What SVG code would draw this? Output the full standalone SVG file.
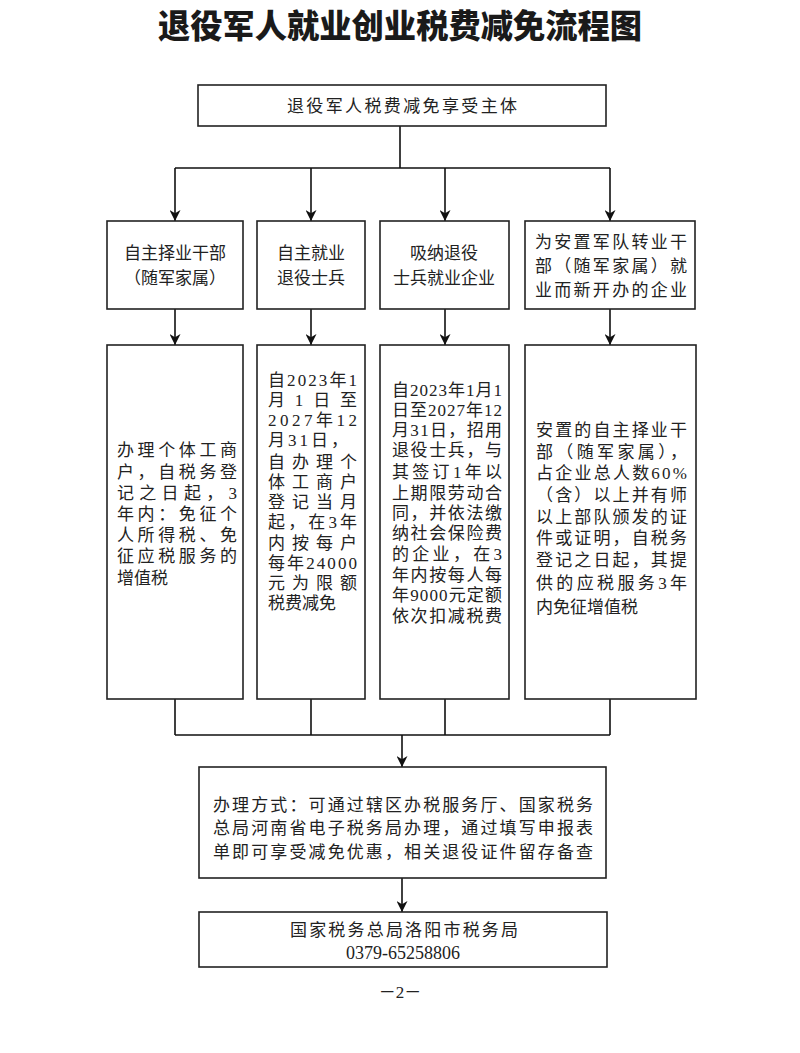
<svg xmlns="http://www.w3.org/2000/svg" width="800" height="1053" viewBox="0 0 800 1053">
<style>
.box{fill:#fff;stroke:#222;stroke-width:1.6}
.t{font-family:"Liberation Serif","Noto Sans CJK SC",serif;font-size:17px;fill:#222}
.c{text-anchor:middle}
.title{font-family:"Noto Sans CJK SC",serif;font-weight:900;font-size:33px;fill:#1a1a1a}
.ln{fill:none;stroke:#111;stroke-width:1.6}
</style>
<defs>
<marker id="ah" viewBox="0 0 10 10" refX="10" refY="5" markerWidth="11" markerHeight="11" markerUnits="userSpaceOnUse" orient="auto">
<path d="M0,0 L10,5 L0,10 L3,5 Z" fill="#111"/>
</marker>
</defs>
<rect width="800" height="1053" fill="#fff"/>
<text class="title" x="158" y="38" textLength="484" lengthAdjust="spacingAndGlyphs">退役军人就业创业税费减免流程图</text>

<g id="connectors">
<path class="ln" d="M400,126 V168 M175,168 H610 M175,735 H610 M175,699 V735 M311,699 V735 M445,699 V735 M610,699 V735"/>
<path class="ln" d="M175,168 V221" marker-end="url(#ah)"/>
<path class="ln" d="M311,168 V221" marker-end="url(#ah)"/>
<path class="ln" d="M445,168 V221" marker-end="url(#ah)"/>
<path class="ln" d="M610,168 V221" marker-end="url(#ah)"/>
<path class="ln" d="M175,309 V345" marker-end="url(#ah)"/>
<path class="ln" d="M311,309 V345" marker-end="url(#ah)"/>
<path class="ln" d="M445,309 V345" marker-end="url(#ah)"/>
<path class="ln" d="M610,309 V345" marker-end="url(#ah)"/>
<path class="ln" d="M402,735 V767" marker-end="url(#ah)"/>
<path class="ln" d="M402,878 V912" marker-end="url(#ah)"/>
</g>

<g id="n-top">
<rect class="box" x="198" y="85" width="408" height="41"/>
<text class="t" x="287" y="112" textLength="230">退役军人税费减免享受主体</text>
</g>

<g id="n-a1">
<rect class="box" x="107" y="221" width="136" height="88"/>
<text class="t c" x="175" y="259">自主择业干部</text>
<text class="t c" x="175" y="284">（随军家属）</text>
</g>
<g id="n-b1">
<rect class="box" x="257" y="221" width="108" height="88"/>
<text class="t c" x="311" y="259">自主就业</text>
<text class="t c" x="311" y="284">退役士兵</text>
</g>
<g id="n-c1">
<rect class="box" x="380" y="221" width="129" height="88"/>
<text class="t c" x="444" y="259">吸纳退役</text>
<text class="t c" x="444" y="284">士兵就业企业</text>
</g>
<g id="n-d1">
<rect class="box" x="525" y="221" width="170" height="88"/>
<text class="t" x="535" y="248" textLength="152">为安置军队转业干</text>
<text class="t" x="535" y="272" textLength="152">部（随军家属）就</text>
<text class="t" x="535" y="296" textLength="152">业而新开办的企业</text>
</g>

<g id="n-a2">
<rect class="box" x="107" y="345" width="136" height="354"/>
<g class="t">
<text x="117" y="456" textLength="120">办理个体工商</text>
<text x="117" y="478" textLength="120">户，自税务登</text>
<text x="117" y="499" textLength="120">记之日起，3</text>
<text x="117" y="520" textLength="120">年内：免征个</text>
<text x="117" y="541" textLength="120">人所得税、免</text>
<text x="117" y="562" textLength="120">征应税服务的</text>
<text x="117" y="584">增值税</text>
</g>
</g>
<g id="n-b2">
<rect class="box" x="257" y="345" width="108" height="354"/>
<g class="t">
<text x="268" y="386" textLength="89">自2023年1</text>
<text x="268" y="406" textLength="89">月 1 日 至</text>
<text x="268" y="426" textLength="89">2027年12</text>
<text x="268" y="446" textLength="80">月31日，</text>
<text x="268" y="468" textLength="89">自办理个</text>
<text x="268" y="488" textLength="89">体工商户</text>
<text x="268" y="508" textLength="89">登记当月</text>
<text x="268" y="528" textLength="89">起，在3年</text>
<text x="268" y="549" textLength="89">内按每户</text>
<text x="268" y="569" textLength="89">每年24000</text>
<text x="268" y="589" textLength="89">元为限额</text>
<text x="268" y="609">税费减免</text>
</g>
</g>
<g id="n-c2">
<rect class="box" x="380" y="345" width="129" height="354"/>
<g class="t">
<text x="392" y="396" textLength="110">自2023年1月1</text>
<text x="392" y="416" textLength="110">日至2027年12</text>
<text x="392" y="436" textLength="110">月31日，招用</text>
<text x="392" y="456" textLength="110">退役士兵，与</text>
<text x="392" y="478" textLength="110">其签订1年以</text>
<text x="392" y="499" textLength="110">上期限劳动合</text>
<text x="392" y="519" textLength="110">同，并依法缴</text>
<text x="392" y="539" textLength="110">纳社会保险费</text>
<text x="392" y="560" textLength="110">的企业，在3</text>
<text x="392" y="581" textLength="110">年内按每人每</text>
<text x="392" y="601" textLength="110">年9000元定额</text>
<text x="392" y="622" textLength="110">依次扣减税费</text>
</g>
</g>
<g id="n-d2">
<rect class="box" x="525" y="345" width="171" height="354"/>
<g class="t">
<text x="536" y="436" textLength="151">安置的自主择业干</text>
<text x="536" y="458" textLength="151">部（随军家属），</text>
<text x="536" y="479" textLength="151">占企业总人数60%</text>
<text x="536" y="501" textLength="151">（含）以上并有师</text>
<text x="536" y="523" textLength="151">以上部队颁发的证</text>
<text x="536" y="544" textLength="151">件或证明，自税务</text>
<text x="536" y="566" textLength="151">登记之日起，其提</text>
<text x="536" y="589" textLength="151">供的应税服务3年</text>
<text x="536" y="613">内免征增值税</text>
</g>
</g>

<g id="n-method">
<rect class="box" x="199" y="767" width="407" height="111"/>
<g class="t">
<text x="213" y="811" textLength="380">办理方式：可通过辖区办税服务厅、国家税务</text>
<text x="213" y="834" textLength="380">总局河南省电子税务局办理，通过填写申报表</text>
<text x="213" y="858" textLength="380">单即可享受减免优惠，相关退役证件留存备查</text>
</g>
</g>

<g id="n-contact">
<rect class="box" x="199" y="912" width="408" height="55"/>
<text class="t" x="290" y="936" textLength="228">国家税务总局洛阳市税务局</text>
<text class="t c" x="403" y="959" style="font-size:18px">0379-65258806</text>
</g>

<text class="t c" x="400" y="998">－2－</text>
</svg>
